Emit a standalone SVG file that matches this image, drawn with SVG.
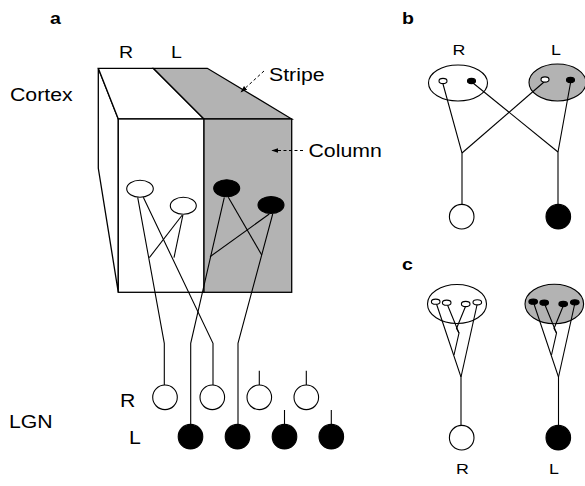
<svg xmlns="http://www.w3.org/2000/svg" width="585" height="486" viewBox="0 0 585 486">
  <style>
    .lbl { font-family: "Liberation Sans", Arial, Helvetica, sans-serif; fill: #000; }
    .big { font-size: 18.5px; }
    .mid { font-size: 17px; }
    .sm { font-size: 15.5px; }
    .hdr { font-size: 17px; font-weight: bold; }
    .face { stroke: #000; stroke-width: 1.3; stroke-linejoin: miter; }
    .white { fill: #fff; }
    .grey { fill: #b3b3b3; }
    .wire { fill: none; stroke: #000; stroke-width: 1.1; }
    .cellR { fill: #fff; stroke: #000; stroke-width: 1.1; }
    .cellL { fill: #000; stroke: #000; stroke-width: 1.1; }
    .dash { fill: none; stroke: #000; stroke-width: 1; stroke-dasharray: 3 2.5; }
  </style>
  <defs>
    <marker id="tip" viewBox="0 0 10 10" refX="9" refY="5" markerWidth="7" markerHeight="7" markerUnits="userSpaceOnUse" orient="auto">
      <path d="M0,1.5 L10,5 L0,8.5 Z" fill="#000"/>
    </marker>
  </defs>
  <rect width="585" height="486" fill="#fff"/>

  <!-- panel letters -->
  <text class="lbl hdr" transform="translate(50 24) scale(1.15 1)">a</text>
  <text class="lbl hdr" transform="translate(402 24) scale(1.15 1)">b</text>
  <text class="lbl hdr" transform="translate(402 270) scale(1.15 1)">c</text>

  <!-- ===== panel a: cortical block ===== -->
  <g id="cortex-block">
    <polygon class="face white" points="98.3,68.3 118.3,119 118.3,292.3 98.3,168.3"/>
    <polygon class="face white" points="98.3,68.3 153.3,68.3 204,119 118.3,119"/>
    <polygon class="face grey" points="153.3,68.3 207.3,68.3 291.7,119 204,119"/>
    <rect class="face white" x="118.3" y="119" width="85.7" height="173.3"/>
    <rect class="face grey" x="204" y="119" width="87.7" height="173.3"/>
  </g>
  <text class="lbl big" transform="translate(10 101) scale(1.15 1)">Cortex</text>
  <text class="lbl mid" transform="translate(119 58) scale(1.15 1)">R</text>
  <text class="lbl mid" transform="translate(171 58) scale(1.15 1)">L</text>

  <g id="stripe-label">
    <path class="dash" d="M264,71 L241,92" marker-end="url(#tip)"/>
    <text class="lbl big" transform="translate(269 80.7) scale(1.15 1)">Stripe</text>
  </g>
  <g id="column-label">
    <path class="dash" d="M303,150.5 L272,150.5" marker-end="url(#tip)"/>
    <text class="lbl big" transform="translate(308.5 156.7) scale(1.15 1)">Column</text>
  </g>

  <!-- connectors: cortical cells to LGN cells -->
  <g id="connectors-a">
    <polyline class="wire" points="137.7,197.3 164.3,343.3 164.3,385"/>
    <polyline class="wire" points="143.3,197.3 213,343.3 213,385"/>
    <line class="wire" x1="182.3" y1="215" x2="149.3" y2="257.7"/>
    <line class="wire" x1="182.9" y1="215" x2="174" y2="257.7"/>
    <polyline class="wire" points="224.3,197.3 190.7,343.3 190.7,424"/>
    <line class="wire" x1="228.3" y1="197.3" x2="261.7" y2="255"/>
    <line class="wire" x1="269.3" y1="214" x2="210" y2="256.7"/>
    <polyline class="wire" points="272.7,214 238,343.3 238,424"/>
    <line class="wire" x1="259.3" y1="370.7" x2="259.3" y2="385"/>
    <line class="wire" x1="306.3" y1="370.7" x2="306.3" y2="385"/>
    <line class="wire" x1="284.5" y1="410" x2="284.5" y2="424"/>
    <line class="wire" x1="331.3" y1="410" x2="331.3" y2="424"/>
  </g>

  <!-- cortical cells -->
  <g id="ctx-R1"><ellipse class="cellR" cx="140" cy="188.7" rx="13.3" ry="8.5"/></g>
  <g id="ctx-R2"><ellipse class="cellR" cx="183.3" cy="205.7" rx="13" ry="8.5"/></g>
  <g id="ctx-L1"><ellipse class="cellL" cx="226.7" cy="188.3" rx="13" ry="8.5"/></g>
  <g id="ctx-L2"><ellipse class="cellL" cx="271" cy="205" rx="13" ry="8.5"/></g>

  <!-- LGN cells -->
  <text class="lbl big" transform="translate(9 428) scale(1.15 1)">LGN</text>
  <text class="lbl big" transform="translate(120 407) scale(1.15 1)">R</text>
  <text class="lbl big" transform="translate(129 444) scale(1.15 1)">L</text>
  <g id="lgn-R1"><circle class="cellR" cx="165" cy="397.3" r="12.3"/></g>
  <g id="lgn-R2"><circle class="cellR" cx="212.3" cy="397.3" r="12.3"/></g>
  <g id="lgn-R3"><circle class="cellR" cx="259.3" cy="397.3" r="12.3"/></g>
  <g id="lgn-R4"><circle class="cellR" cx="306.3" cy="397.3" r="12.3"/></g>
  <g id="lgn-L1"><circle class="cellL" cx="190.5" cy="436.7" r="12.3"/></g>
  <g id="lgn-L2"><circle class="cellL" cx="237.5" cy="436.7" r="12.3"/></g>
  <g id="lgn-L3"><circle class="cellL" cx="284.5" cy="436.7" r="12.3"/></g>
  <g id="lgn-L4"><circle class="cellL" cx="331.3" cy="436.7" r="12.3"/></g>

  <!-- ===== panel b ===== -->
  <text class="lbl sm" transform="translate(452.5 55) scale(1.15 1)">R</text>
  <text class="lbl sm" transform="translate(551 55) scale(1.15 1)">L</text>
  <g id="b-field-R"><ellipse class="cellR" cx="458" cy="83" rx="29.5" ry="18"/></g>
  <g id="b-field-L"><ellipse class="face grey" cx="557.5" cy="82.5" rx="28.5" ry="18.5" style="stroke-width:1.1"/></g>
  <g id="connectors-b">
    <polyline class="wire" points="443,84 462,153 462,204.5"/>
    <line class="wire" x1="544" y1="82" x2="462" y2="153"/>
    <line class="wire" x1="473" y1="83" x2="558" y2="152"/>
    <polyline class="wire" points="570.5,83 558,152 558,204.5"/>
  </g>
  <g id="b-sub-R-open"><ellipse class="cellR" cx="443" cy="81" rx="4" ry="2.6"/></g>
  <g id="b-sub-R-fill"><ellipse class="cellL" cx="471.5" cy="81" rx="4" ry="2.6"/></g>
  <g id="b-sub-L-open"><ellipse class="cellR" cx="545" cy="79.5" rx="4" ry="2.6"/></g>
  <g id="b-sub-L-fill"><ellipse class="cellL" cx="570.5" cy="80" rx="4" ry="2.6"/></g>
  <g id="b-lgn-R"><circle class="cellR" cx="461.7" cy="216.7" r="12.3"/></g>
  <g id="b-lgn-L"><circle class="cellL" cx="558.3" cy="216.7" r="12.3"/></g>

  <!-- ===== panel c ===== -->
  <g id="c-field-R"><ellipse class="cellR" cx="457" cy="304" rx="29.5" ry="19.5"/></g>
  <g id="c-field-L"><ellipse class="face grey" cx="554.3" cy="304" rx="29.3" ry="19.8" style="stroke-width:1.1"/></g>
  <g id="connectors-c">
    <polyline class="wire" points="436.5,304 461,377 461,425"/>
    <line class="wire" x1="477" y1="305" x2="461" y2="377"/>
    <polyline class="wire" points="447.5,305 459,333 454,355"/>
    <polyline class="wire" points="465.5,306.5 456.5,328.5 459,333"/>
    <polyline class="wire" points="534,304 558.5,377 558.5,425"/>
    <line class="wire" x1="574.5" y1="305" x2="558.5" y2="377"/>
    <polyline class="wire" points="545,305 556.5,333 551.5,355"/>
    <polyline class="wire" points="563,306.5 554,328.5 556.5,333"/>
  </g>
  <g id="c-sub-R1"><ellipse class="cellR" cx="435.7" cy="301.7" rx="4.3" ry="2.6"/></g>
  <g id="c-sub-R2"><ellipse class="cellR" cx="446.7" cy="302.7" rx="4.3" ry="2.6"/></g>
  <g id="c-sub-R3"><ellipse class="cellR" cx="465.7" cy="304" rx="4.3" ry="2.6"/></g>
  <g id="c-sub-R4"><ellipse class="cellR" cx="477.3" cy="302.3" rx="4.3" ry="2.6"/></g>
  <g id="c-sub-L1"><ellipse class="cellL" cx="533.2" cy="301.7" rx="4.3" ry="2.6"/></g>
  <g id="c-sub-L2"><ellipse class="cellL" cx="544.2" cy="302.7" rx="4.3" ry="2.6"/></g>
  <g id="c-sub-L3"><ellipse class="cellL" cx="563.2" cy="304" rx="4.3" ry="2.6"/></g>
  <g id="c-sub-L4"><ellipse class="cellL" cx="574.8" cy="302.3" rx="4.3" ry="2.6"/></g>
  <g id="c-lgn-R"><circle class="cellR" cx="461.7" cy="437.7" r="12.3"/></g>
  <g id="c-lgn-L"><circle class="cellL" cx="558.3" cy="437.7" r="12.3"/></g>
  <text class="lbl sm" transform="translate(456 474) scale(1.15 1)">R</text>
  <text class="lbl sm" transform="translate(549 474) scale(1.15 1)">L</text>
</svg>
